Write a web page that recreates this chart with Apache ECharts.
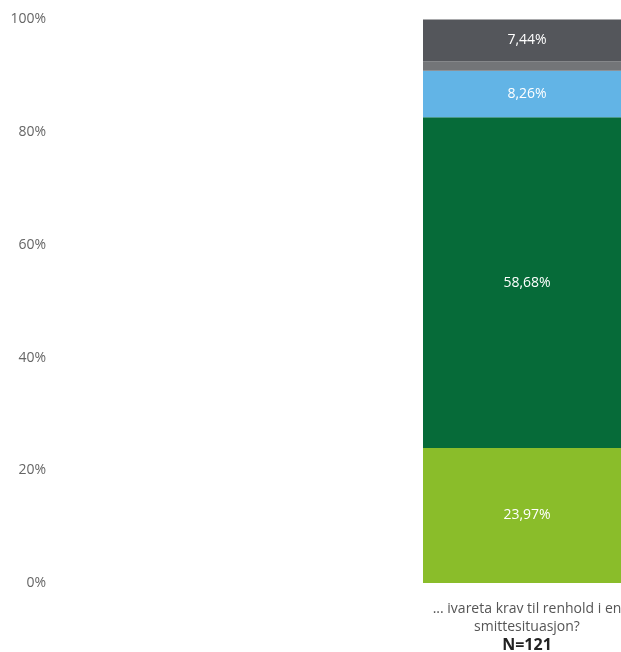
<!DOCTYPE html>
<html>
<head>
<meta charset="utf-8">
<script src="https://cdn.jsdelivr.net/npm/echarts@6/dist/echarts.min.js"></script>
<style>
  html, body { margin: 0; padding: 0; background: #fff; overflow: hidden; }
  #chart { width: 621px; height: 652px; }
</style>
</head>
<body>
<div id="chart"></div>
<script>
// Question text (wrapped) and respondent count
const categories = ['... ivareta krav til renhold i en\nsmittesituasjon?'];
const respondents = [121];

// Answer shares in percent, bottom to top of the stack
const iStorGrad = [23.97];
const iNoenGrad = [58.68];
const iLitenGrad = [8.26];
const ikkeIDetHeleTatt = [1.65];
const vetIkke = [7.44];

// Y axis ticks
const yTicks = [0, 20, 40, 60, 80, 100];

const fmt = v => v.toFixed(2).replace('.', ',') + '%';

function seg(name, data, color, showLabel) {
  return {
    name: name,
    type: 'bar',
    stack: 'total',
    data: data,
    barWidth: '100%',
    itemStyle: { color: color },
    label: {
      show: showLabel,
      position: 'inside',
      color: '#fff',
      fontFamily: 'Open Sans',
      fontSize: 14,
      formatter: p => fmt(p.value)
    },
    emphasis: { disabled: true }
  };
}

const chart = echarts.init(document.getElementById('chart'), null, { renderer: 'canvas' });
chart.setOption({
  animation: false,
  grid: { left: 423, width: 208, top: 19.5, bottom: 69, containLabel: false, outerBoundsMode: 'none' },
  xAxis: {
    type: 'category',
    data: categories,
    axisLine: { show: false },
    axisTick: { show: false },
    axisLabel: {
      margin: 17,
      interval: 0,
      hideOverlap: false,
      formatter: (v, i) => v.split('\n').map(s => '{q|' + s + '}').join('\n') + '\n{n|N=' + respondents[i] + '}',
      rich: {
        q: { fontFamily: 'Open Sans', fontSize: 14, color: '#555', lineHeight: 18 },
        n: { fontFamily: 'Open Sans', fontSize: 16, fontWeight: 'bold', color: '#222', lineHeight: 18 }
      }
    }
  },
  yAxis: {
    type: 'value',
    min: yTicks[0],
    max: yTicks[yTicks.length - 1],
    interval: 20,
    axisLine: { show: false },
    axisTick: { show: false },
    splitLine: { show: false },
    axisLabel: {
      margin: 377,
      color: '#666',
      fontFamily: 'Open Sans',
      fontSize: 14,
      formatter: v => v + '%'
    }
  },
  series: [
    seg('I stor grad', iStorGrad, '#8abd2a', true),
    seg('I noen grad', iNoenGrad, '#066b39', true),
    seg('I liten grad', iLitenGrad, '#62b4e6', true),
    seg('Ikke i det hele tatt', ikkeIDetHeleTatt, '#737578', false),
    seg('Vet ikke', vetIkke, '#54565b', true)
  ]
});
</script>
</body>
</html>
